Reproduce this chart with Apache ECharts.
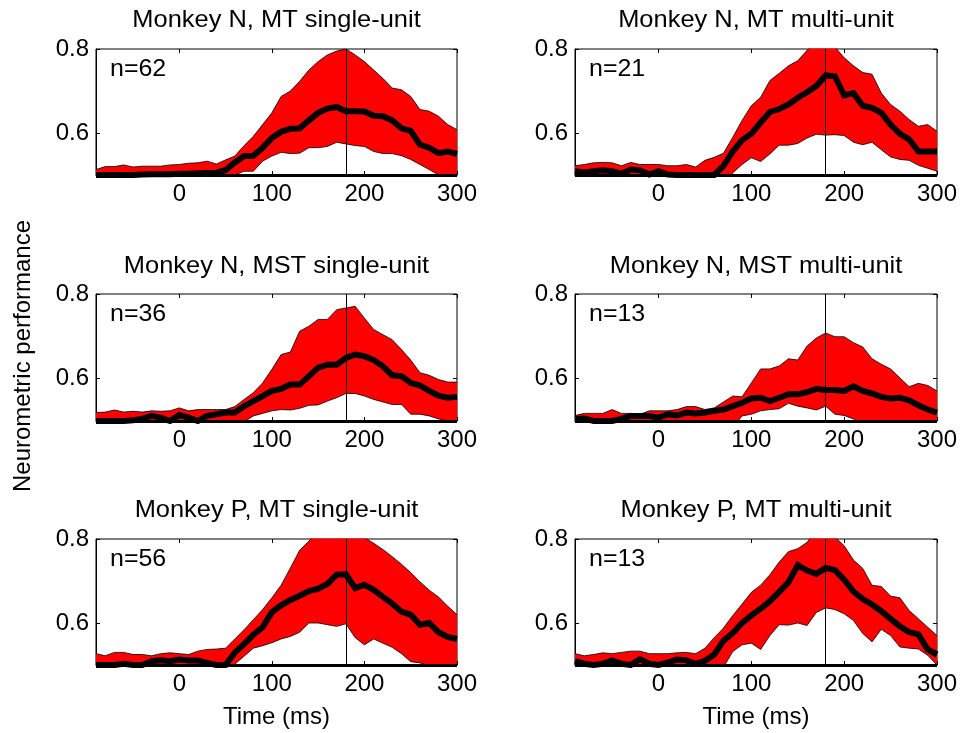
<!DOCTYPE html>
<html>
<head>
<meta charset="utf-8">
<script src="https://cdn.jsdelivr.net/npm/echarts@6/dist/echarts.min.js"></script>
<style>
html,body{margin:0;padding:0;background:#fff;}
#chart{width:961px;height:733px;}
</style>
</head>
<body>
<div id="chart"></div>
<script>
// ---- data ----
const times = [-90,-80,-70,-60,-50,-40,-30,-20,-10,0,10,20,30,40,50,60,70,80,90,100,110,120,130,140,150,160,170,180,190,200,210,220,230,240,250,260,270,280,290,300];

const panelTitles = ['Monkey N, MT single-unit','Monkey N, MT multi-unit','Monkey N, MST single-unit','Monkey N, MST multi-unit','Monkey P, MT single-unit','Monkey P, MT multi-unit'];
const nLabels = ['n=62','n=21','n=36','n=13','n=56','n=13'];
const xTickValues = [0,100,200,300];
const yTickValues = [0.6,0.8];
const yAxisTitle = 'Neurometric performance';
const xAxisTitle = 'Time (ms)';
const stimLineTime = 180;
const chanceLevel = 0.5;

// Monkey N, MT single-unit
const nMTsuMean  = [0.500,0.500,0.500,0.500,0.500,0.501,0.502,0.502,0.502,0.503,0.503,0.504,0.505,0.505,0.512,0.530,0.545,0.546,0.565,0.588,0.603,0.610,0.611,0.630,0.648,0.658,0.662,0.652,0.652,0.651,0.641,0.640,0.630,0.611,0.605,0.572,0.565,0.552,0.556,0.550];
const nMTsuUpper = [0.513,0.520,0.520,0.524,0.519,0.521,0.521,0.521,0.524,0.525,0.528,0.529,0.533,0.526,0.536,0.545,0.570,0.592,0.620,0.648,0.687,0.700,0.723,0.750,0.770,0.786,0.795,0.800,0.786,0.770,0.750,0.730,0.707,0.703,0.687,0.656,0.652,0.640,0.620,0.608];
const nMTsuLower = [0.480,0.482,0.480,0.478,0.480,0.482,0.480,0.478,0.480,0.480,0.478,0.480,0.482,0.485,0.490,0.500,0.509,0.509,0.533,0.545,0.554,0.551,0.552,0.565,0.565,0.568,0.578,0.574,0.570,0.568,0.556,0.551,0.551,0.546,0.537,0.525,0.513,0.500,0.490,0.480];

// Monkey N, MT multi-unit
const nMTmuMean  = [0.509,0.506,0.509,0.511,0.509,0.503,0.513,0.511,0.501,0.509,0.501,0.500,0.500,0.500,0.500,0.500,0.522,0.556,0.583,0.598,0.625,0.650,0.657,0.668,0.684,0.697,0.712,0.737,0.735,0.690,0.695,0.665,0.660,0.648,0.620,0.598,0.585,0.556,0.556,0.556];
const nMTmuUpper = [0.522,0.525,0.529,0.530,0.529,0.522,0.530,0.525,0.525,0.525,0.522,0.522,0.525,0.519,0.535,0.542,0.552,0.590,0.630,0.665,0.685,0.725,0.742,0.760,0.772,0.797,0.820,0.830,0.805,0.779,0.760,0.744,0.740,0.695,0.668,0.652,0.632,0.616,0.620,0.604];
const nMTmuLower = [0.480,0.482,0.480,0.482,0.480,0.478,0.480,0.482,0.480,0.480,0.478,0.480,0.482,0.480,0.478,0.470,0.475,0.505,0.525,0.541,0.532,0.550,0.571,0.571,0.575,0.588,0.597,0.595,0.596,0.594,0.578,0.572,0.578,0.560,0.543,0.537,0.535,0.523,0.516,0.509];

// Monkey N, MST single-unit
const nMSTsuMean  = [0.500,0.500,0.500,0.500,0.502,0.505,0.512,0.508,0.500,0.514,0.508,0.500,0.512,0.516,0.520,0.520,0.535,0.547,0.559,0.571,0.576,0.586,0.586,0.606,0.626,0.633,0.633,0.649,0.657,0.653,0.644,0.629,0.608,0.606,0.590,0.584,0.571,0.560,0.555,0.557];
const nMSTsuUpper = [0.520,0.521,0.526,0.521,0.523,0.521,0.524,0.523,0.524,0.531,0.524,0.527,0.527,0.527,0.527,0.534,0.551,0.567,0.590,0.622,0.657,0.663,0.712,0.724,0.740,0.740,0.763,0.767,0.771,0.743,0.716,0.704,0.692,0.669,0.644,0.614,0.608,0.598,0.592,0.592];
const nMSTsuLower = [0.480,0.482,0.480,0.478,0.480,0.482,0.480,0.478,0.480,0.480,0.478,0.480,0.482,0.480,0.482,0.485,0.498,0.512,0.518,0.524,0.527,0.526,0.530,0.537,0.538,0.547,0.555,0.565,0.565,0.559,0.551,0.545,0.539,0.539,0.516,0.516,0.512,0.505,0.500,0.490];

// Monkey N, MST multi-unit
const nMSTmuMean  = [0.505,0.506,0.500,0.500,0.500,0.505,0.512,0.512,0.512,0.508,0.516,0.513,0.520,0.518,0.520,0.524,0.527,0.535,0.543,0.553,0.555,0.547,0.555,0.563,0.563,0.568,0.576,0.573,0.573,0.571,0.582,0.571,0.565,0.557,0.553,0.555,0.549,0.537,0.527,0.520];
const nMSTmuUpper = [0.513,0.518,0.518,0.518,0.527,0.518,0.518,0.516,0.524,0.524,0.524,0.527,0.534,0.534,0.527,0.531,0.545,0.559,0.557,0.590,0.623,0.623,0.630,0.647,0.644,0.677,0.696,0.708,0.699,0.699,0.685,0.675,0.647,0.634,0.623,0.602,0.581,0.589,0.584,0.571];
const nMSTmuLower = [0.480,0.482,0.480,0.478,0.480,0.482,0.480,0.478,0.480,0.480,0.478,0.480,0.482,0.480,0.482,0.480,0.478,0.485,0.512,0.516,0.524,0.527,0.529,0.542,0.535,0.531,0.526,0.535,0.516,0.513,0.505,0.490,0.480,0.470,0.470,0.470,0.470,0.475,0.480,0.480];

// Monkey P, MT single-unit
const pMTsuMean  = [0.500,0.500,0.500,0.503,0.500,0.500,0.509,0.511,0.509,0.513,0.511,0.511,0.505,0.500,0.500,0.530,0.550,0.572,0.590,0.626,0.642,0.655,0.665,0.676,0.682,0.693,0.715,0.716,0.683,0.691,0.679,0.662,0.646,0.627,0.620,0.596,0.600,0.578,0.567,0.562];
const pMTsuUpper = [0.527,0.522,0.530,0.530,0.525,0.525,0.522,0.527,0.529,0.527,0.525,0.533,0.537,0.538,0.540,0.562,0.584,0.608,0.632,0.660,0.690,0.731,0.773,0.795,0.820,0.845,0.860,0.850,0.830,0.803,0.790,0.775,0.758,0.740,0.720,0.698,0.678,0.662,0.640,0.620];
const pMTsuLower = [0.480,0.482,0.480,0.478,0.480,0.482,0.480,0.478,0.480,0.480,0.478,0.480,0.482,0.480,0.485,0.502,0.521,0.540,0.546,0.553,0.562,0.568,0.578,0.600,0.600,0.596,0.592,0.598,0.565,0.548,0.562,0.552,0.542,0.527,0.508,0.505,0.498,0.490,0.480,0.480];

// Monkey P, MT multi-unit
const pMTmuMean  = [0.509,0.503,0.500,0.503,0.511,0.503,0.500,0.514,0.503,0.500,0.506,0.513,0.511,0.503,0.510,0.525,0.558,0.576,0.600,0.618,0.634,0.652,0.674,0.697,0.738,0.725,0.717,0.731,0.726,0.703,0.675,0.657,0.644,0.628,0.610,0.592,0.578,0.573,0.537,0.525];
const pMTmuUpper = [0.527,0.522,0.525,0.529,0.527,0.530,0.533,0.533,0.527,0.527,0.527,0.529,0.530,0.527,0.540,0.565,0.588,0.618,0.645,0.673,0.690,0.715,0.745,0.770,0.777,0.792,0.820,0.840,0.805,0.784,0.750,0.730,0.690,0.687,0.664,0.660,0.630,0.610,0.590,0.570];
const pMTmuLower = [0.480,0.482,0.480,0.478,0.480,0.482,0.480,0.478,0.480,0.480,0.478,0.480,0.482,0.480,0.482,0.480,0.495,0.532,0.548,0.552,0.537,0.570,0.596,0.595,0.600,0.594,0.625,0.636,0.632,0.622,0.606,0.575,0.555,0.585,0.570,0.543,0.540,0.538,0.523,0.500];

const panelMeans  = [nMTsuMean, nMTmuMean, nMSTsuMean, nMSTmuMean, pMTsuMean, pMTmuMean];
const panelUppers = [nMTsuUpper, nMTmuUpper, nMSTsuUpper, nMSTmuUpper, pMTsuUpper, pMTmuUpper];
const panelLowers = [nMTsuLower, nMTmuLower, nMSTsuLower, nMSTmuLower, pMTsuLower, pMTmuLower];

// ---- layout ----
const FONT = "'Liberation Sans', Arial, sans-serif";
const FS = 24;
const colLeft = [96, 575];
const colWidth = [361, 362];
const rowTop = [49, 294, 539];
const rowHeight = [126, 127, 126];
const titleY = [20, 266, 510];
const nLabelY = [69, 314, 559];

const timeCats = times.map(String);
const isTick = (idx, val) => xTickValues.indexOf(Number(val)) >= 0;

const grids = [], xAxes = [], yAxes = [], series = [], graphics = [];
for (let p = 0; p < 6; p++) {
  const r = Math.floor(p / 2), c = p % 2;
  grids.push({left: colLeft[c], top: rowTop[r], width: colWidth[c], height: rowHeight[r],
    show: true, borderColor: '#000', borderWidth: 1, backgroundColor: 'transparent', containLabel: false});
  const xi = xAxes.length;
  xAxes.push({
    type: 'category', data: timeCats, boundaryGap: false, gridIndex: p, position: 'bottom',
    axisLine: {show: true, onZero: false, lineStyle: {color: '#000', width: 1}},
    axisTick: {show: true, inside: true, length: 4, interval: isTick, lineStyle: {color: '#000', width: 1}},
    axisLabel: {show: true, interval: isTick, color: '#000', fontSize: FS, fontFamily: FONT, margin: 7},
    splitLine: {show: false},
    name: r === 2 ? xAxisTitle : '', nameLocation: 'middle', nameGap: 40,
    nameTextStyle: {color: '#000', fontSize: FS, fontFamily: FONT}
  });
  xAxes.push({
    type: 'category', data: timeCats, boundaryGap: false, gridIndex: p, position: 'top',
    axisLine: {show: false}, axisLabel: {show: false}, splitLine: {show: false},
    axisTick: {show: true, inside: true, length: 4, interval: isTick, lineStyle: {color: '#000', width: 1}}
  });
  const yi = yAxes.length;
  yAxes.push({
    type: 'value', gridIndex: p, min: 0.5, max: 0.8, position: 'left',
    axisLine: {show: true, onZero: false, lineStyle: {color: '#000', width: 1}},
    axisTick: {show: true, inside: true, length: 4, customValues: yTickValues, lineStyle: {color: '#000', width: 1}},
    axisLabel: {show: true, customValues: yTickValues, color: '#000', fontSize: FS, fontFamily: FONT, margin: 7,
      formatter: v => Number(v).toFixed(1)},
    splitLine: {show: false}
  });
  yAxes.push({
    type: 'value', gridIndex: p, min: 0.5, max: 0.8, position: 'right',
    axisLine: {show: false}, axisLabel: {show: false}, splitLine: {show: false},
    axisTick: {show: true, inside: true, length: 4, customValues: yTickValues, lineStyle: {color: '#000', width: 1}}
  });
  const mean = panelMeans[p], up = panelUppers[p], lo = panelLowers[p];
  series.push({
    type: 'line', xAxisIndex: xi, yAxisIndex: yi, stack: 'band' + p, symbol: 'none', silent: true,
    data: lo.slice(),
    lineStyle: {color: '#000', width: 0.8}, z: 2, animation: false, clip: true
  });
  series.push({
    type: 'line', xAxisIndex: xi, yAxisIndex: yi, stack: 'band' + p, symbol: 'none', silent: true,
    data: up.map((u, i) => +(u - lo[i]).toFixed(4)),
    lineStyle: {color: '#000', width: 0.8}, areaStyle: {color: '#ff0000', opacity: 1},
    z: 2, animation: false, clip: true
  });
  series.push({
    type: 'line', xAxisIndex: xi, yAxisIndex: yi, symbol: 'none', silent: true,
    data: mean.slice(),
    lineStyle: {color: '#000', width: 6, join: 'miter'}, z: 4, animation: false, clip: true,
    markLine: {
      silent: true, symbol: 'none', animation: false, label: {show: false},
      data: [
        {xAxis: String(stimLineTime), lineStyle: {color: '#000', width: 1, type: 'solid'}},
        {yAxis: chanceLevel, lineStyle: {color: '#000', width: 3, type: 'solid'}}
      ]
    }
  });
  graphics.push({type: 'text', x: colLeft[c] + colWidth[c] / 2, y: titleY[r], scaleX: 1.06, silent: true,
    style: {text: panelTitles[p], font: FS + 'px ' + FONT, fill: '#000', textAlign: 'center', textVerticalAlign: 'middle'}});
  graphics.push({type: 'text', x: colLeft[c] + 14, y: nLabelY[r], scaleX: 1.04, silent: true,
    style: {text: nLabels[p], font: FS + 'px ' + FONT, fill: '#000', textAlign: 'left', textVerticalAlign: 'middle'}});
}
graphics.push({type: 'text', x: 23, y: 356, rotation: Math.PI / 2, silent: true,
  style: {text: yAxisTitle, font: FS + 'px ' + FONT, fill: '#000', textAlign: 'center', textVerticalAlign: 'middle'}});

const chart = echarts.init(document.getElementById('chart'), null, {renderer: 'canvas'});
chart.setOption({
  animation: false,
  backgroundColor: '#fff',
  grid: grids, xAxis: xAxes, yAxis: yAxes, series: series, graphic: graphics
});
</script>
</body>
</html>
